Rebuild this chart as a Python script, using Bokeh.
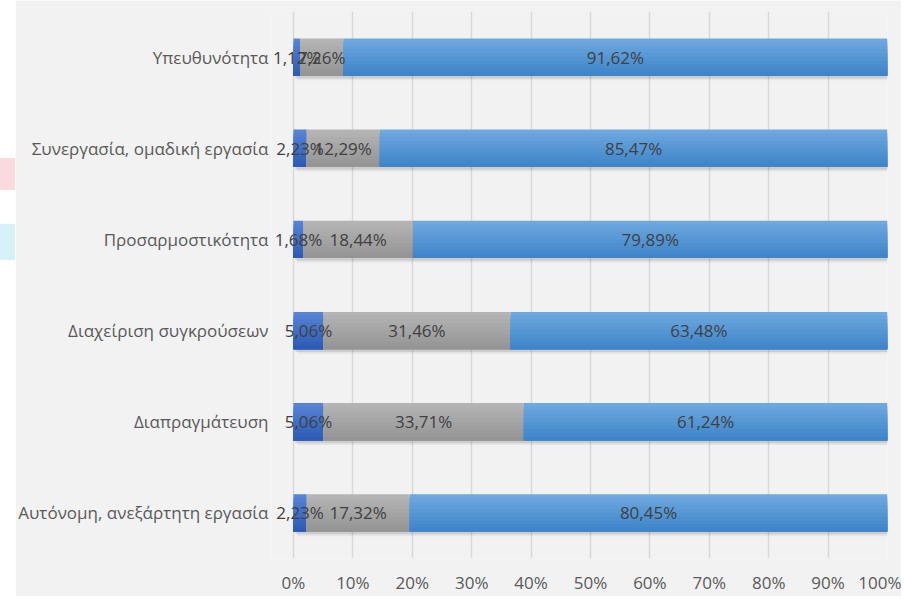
from bokeh.plotting import figure
from bokeh.models import FactorRange, FixedTicker, ColumnDataSource, LabelSet, Spacer, Range1d
from bokeh.layouts import row, column
from bokeh.transform import dodge
from bokeh.core.properties import value
from bokeh.embed import file_html
from bokeh.resources import INLINE

# ---- data ----
categories = [
    "Υπευθυνότητα",
    "Συνεργασία, ομαδική εργασία",
    "Προσαρμοστικότητα",
    "Διαχείριση συγκρούσεων",
    "Διαπραγμάτευση",
    "Αυτόνομη, ανεξάρτητη εργασία",
]
series1 = [1.12, 2.23, 1.68, 5.06, 5.06, 2.23]
series2 = [7.26, 12.29, 18.44, 31.46, 33.71, 17.32]
series3 = [91.62, 85.47, 79.89, 63.48, 61.24, 80.45]
x_ticks = [0, 10, 20, 30, 40, 50, 60, 70, 80, 90, 100]
x_tick_labels = ["0%", "10%", "20%", "30%", "40%", "50%", "60%", "70%", "80%", "90%", "100%"]

# ---- styles ----
FONT = "Open Sans"
BG = "#F2F2F2"
grad = [
    ("#5683D4", "#2D5CB6"),
    ("#B4B4B4", "#959595"),
    ("#6EA8DF", "#3E85C9"),
]
BAR_H = 0.41
N_STRIPS = 10
FIG_W, FIG_H = 886, 596
X_PAD = 3.7   # small room left of 0% so the first data labels are not clipped


def mix(c1, c2, t):
    a = [int(c1[i:i + 2], 16) for i in (1, 3, 5)]
    b = [int(c2[i:i + 2], 16) for i in (1, 3, 5)]
    return "#%02x%02x%02x" % tuple(round(a[k] + (b[k] - a[k]) * t) for k in range(3))


def fmt(v):
    return ("%.2f" % v).replace(".", ",") + "%"


p = figure(
    width=FIG_W, height=FIG_H,
    x_range=Range1d(-X_PAD, 100),
    y_range=FactorRange(factors=list(reversed(categories))),
    output_backend="svg", toolbar_location=None,
    min_border_left=255, min_border_right=14, min_border_top=11, min_border_bottom=29,
)
p.background_fill_color = BG
p.border_fill_color = BG
p.outline_line_color = None

series = [series1, series2, series3]
lefts = []
acc = [0.0] * len(categories)
for s in series:
    lefts.append(list(acc))
    acc = [a + v for a, v in zip(acc, s)]

# soft shadows
for dx, dy, al in ((0.3, -0.03, 0.10), (0.6, -0.05, 0.05)):
    ssrc = ColumnDataSource(dict(cat=categories, left=[dx] * len(categories),
                                 right=[r + dx for r in acc]))
    p.hbar(y=dodge("cat", dy, range=p.y_range), left="left", right="right", height=BAR_H,
           source=ssrc, fill_color="black", fill_alpha=al, line_color=None)

# bars with a vertical gradient (layered rectangles, top colour first)
strip_h = BAR_H / N_STRIPS
for s, lf, (ctop, cbot) in zip(series, lefts, grad):
    src = ColumnDataSource(dict(cat=categories, left=lf, right=[l + v for l, v in zip(lf, s)]))
    for k in range(N_STRIPS):
        top = BAR_H / 2 - k * strip_h
        bot = -BAR_H / 2
        col = mix(ctop, cbot, k / (N_STRIPS - 1))
        p.hbar(y=dodge("cat", (top + bot) / 2, range=p.y_range), left="left", right="right",
               height=top - bot, source=src, fill_color=col, line_color=None)

# data labels
lab_x, lab_y, lab_t = [], [], []
for s, lf in zip(series, lefts):
    for c, l, v in zip(categories, lf, s):
        lab_x.append(l + v / 2)
        lab_y.append(c)
        lab_t.append(fmt(v))
lsrc = ColumnDataSource(dict(x=lab_x, y=lab_y, t=lab_t))
labels = LabelSet(x="x", y="y", text="t", source=lsrc, text_align="center",
                  text_baseline="middle", text_font=value(FONT), text_font_size=value("17px"),
                  text_color=value("#404040"), level="overlay")
p.add_layout(labels)

# axes / grid
p.ygrid.grid_line_color = None
p.xgrid.grid_line_color = "#D9D9D9"
p.xgrid.grid_line_width = 1.5
p.xaxis.ticker = FixedTicker(ticks=x_ticks)
p.xaxis.major_label_overrides = {t: l for t, l in zip(x_ticks, x_tick_labels)}
for ax in (p.xaxis, p.yaxis):
    ax.axis_line_color = None
    ax.major_tick_line_color = None
    ax.minor_tick_line_color = None
    ax.major_label_text_font = FONT
    ax.major_label_text_font_size = "17px"
    ax.major_label_text_color = "#595959"
p.xaxis.major_label_standoff = 6
p.yaxis.major_label_standoff = -3

# thin white strip on the left with the page decorations
strip = column(
    Spacer(width=15, height=158),
    Spacer(width=15, height=32, styles={"background-color": "#F9DADD"}),
    Spacer(width=15, height=34),
    Spacer(width=15, height=36, styles={"background-color": "#D6F1F7"}),
    Spacer(width=15, height=336),
    spacing=0,
)
layout = row(strip, p, spacing=0)
open("out.html", "w").write(file_html(layout, INLINE))
